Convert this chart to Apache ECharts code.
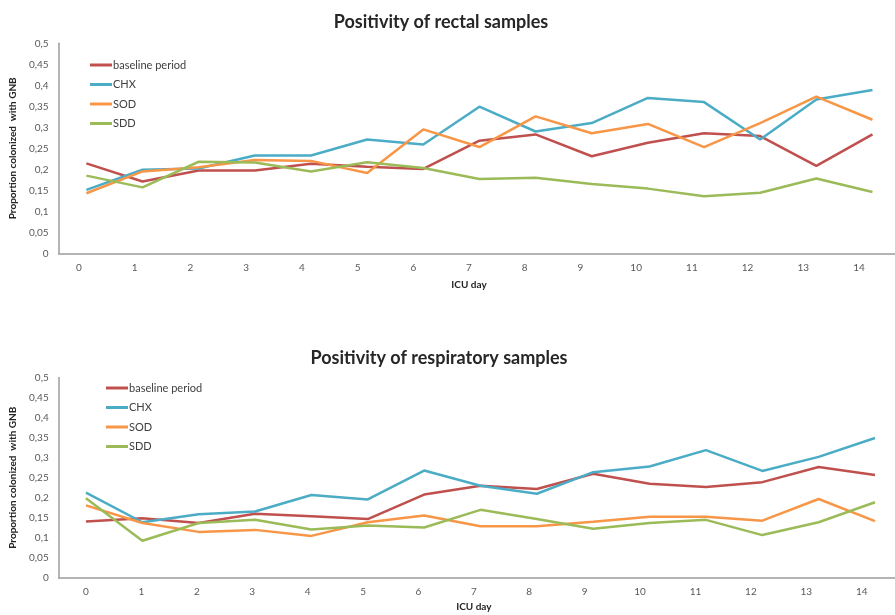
<!DOCTYPE html>
<html>
<head>
<meta charset="utf-8">
<script src="https://cdn.jsdelivr.net/npm/echarts@6/dist/echarts.min.js"></script>
<style>html,body{margin:0;padding:0;background:#fff}#c{width:895px;height:615px}</style>
</head>
<body>
<div id="c"></div>
<script>
const days = [0,1,2,3,4,5,6,7,8,9,10,11,12,13,14];
const dayLabels = ['0','1','2','3','4','5','6','7','8','9','10','11','12','13','14'];
const seriesNames = ['baseline period','CHX','SOD','SDD'];
const seriesColors = ['#C0504D','#4BACC6','#F79646','#9BBB59'];

// Rectal samples
const rectalBaseline = [0.214,0.171,0.197,0.197,0.213,0.206,0.201,0.268,0.283,0.231,0.263,0.286,0.279,0.208,0.283];
const rectalCHX      = [0.151,0.199,0.202,0.233,0.233,0.271,0.259,0.349,0.290,0.310,0.370,0.360,0.271,0.366,0.389];
const rectalSOD      = [0.143,0.195,0.205,0.222,0.220,0.191,0.295,0.253,0.326,0.286,0.308,0.253,0.310,0.373,0.318];
const rectalSDD      = [0.185,0.157,0.218,0.216,0.195,0.217,0.203,0.177,0.180,0.165,0.154,0.136,0.144,0.178,0.146];

// Respiratory samples
const respBaseline = [0.141,0.149,0.137,0.160,0.154,0.147,0.208,0.230,0.222,0.260,0.235,0.227,0.239,0.277,0.257];
const respCHX      = [0.213,0.139,0.159,0.166,0.207,0.196,0.268,0.230,0.210,0.264,0.278,0.319,0.267,0.302,0.349];
const respSOD      = [0.181,0.137,0.115,0.120,0.105,0.139,0.156,0.129,0.129,0.140,0.153,0.153,0.143,0.197,0.142];
const respSDD      = [0.199,0.093,0.137,0.145,0.121,0.131,0.126,0.170,0.147,0.123,0.137,0.145,0.107,0.139,0.189];

const yTicks = {min:0, max:0.5, interval:0.05};
const FONT = 'Lato';
const chart = echarts.init(document.getElementById('c'), null, {renderer:'canvas'});
function pts(vals){ return days.map((d,i)=>[d, vals[i]]); }
function fmt(v){ return (Math.round(v*100)/100).toString().replace('.', ','); }
const topSets = [rectalBaseline, rectalCHX, rectalSOD, rectalSDD];
const botSets = [respBaseline, respCHX, respSOD, respSDD];
const axisGray = '#9c9c9c';
const labelColor = '#595959';

const series = [];
topSets.forEach((s,i)=>series.push({
  name: seriesNames[i], type:'line', xAxisIndex:0, yAxisIndex:0, data: pts(s),
  symbol:'none', lineStyle:{width:2.5, color:seriesColors[i]}, itemStyle:{color:seriesColors[i]}, z:3
}));
botSets.forEach((s,i)=>series.push({
  name: seriesNames[i], type:'line', xAxisIndex:2, yAxisIndex:2, data: pts(s),
  symbol:'none', lineStyle:{width:2.5, color:seriesColors[i]}, itemStyle:{color:seriesColors[i]}, z:3
}));

function yAxisVisible(grid, nameGap, margin){
  return {
    type:'value', gridIndex:grid, min:yTicks.min, max:yTicks.max, interval:yTicks.interval,
    axisLine:{show:true, onZero:false, lineStyle:{color:axisGray, width:1.5}},
    axisTick:{show:false}, splitLine:{show:false},
    axisLabel:{color:labelColor, fontFamily:FONT, fontSize:10, margin:margin, formatter:fmt},
    name:'Proportion colonized  with GNB', nameLocation:'middle', nameGap:nameGap,
    nameTextStyle:{color:'#262626', fontFamily:FONT, fontSize:10, fontWeight:'bold'}
  };
}
function yAxisHidden(grid){
  return {type:'value', gridIndex:grid, min:0, max:0.5, show:false};
}
function xValueAxis(grid, min, max){
  return {type:'value', gridIndex:grid, min:min, max:max,
    axisLine:{show:true, onZero:false, lineStyle:{color:axisGray, width:1.5}},
    axisTick:{show:false}, axisLabel:{show:false}, splitLine:{show:false}};
}
function xLabelAxis(grid, margin, nameGap){
  return {type:'category', gridIndex:grid, data:dayLabels, boundaryGap:true,
    axisLine:{show:false}, axisTick:{show:false}, splitLine:{show:false},
    axisLabel:{color:labelColor, fontFamily:FONT, fontSize:10, margin:margin, interval:0},
    name:'ICU day', nameLocation:'middle', nameGap:nameGap,
    nameTextStyle:{color:'#262626', fontFamily:FONT, fontSize:10, fontWeight:'bold'}};
}

const option = {
  backgroundColor:'#fff',
  animation:false,
  title:[
    {text:'Positivity of rectal samples', left:436, top:8, textAlign:'center',
      textStyle:{fontFamily:FONT, fontSize:18, fontWeight:'bold', color:'#262626'}},
    {text:'Positivity of respiratory samples', left:434, top:344, textAlign:'center',
      textStyle:{fontFamily:FONT, fontSize:18, fontWeight:'bold', color:'#262626'}}
  ],
  legend:[
    {orient:'vertical', left:90, top:58, padding:0, itemGap:5.5, itemWidth:22, itemHeight:3,
      icon:'rect', data:seriesNames,
      textStyle:{fontFamily:FONT, fontSize:11, color:'#404040', lineHeight:14, padding:[0,0,0,-4]}},
    {orient:'vertical', left:106, top:381, padding:0, itemGap:5.5, itemWidth:22, itemHeight:3,
      icon:'rect', data:seriesNames,
      textStyle:{fontFamily:FONT, fontSize:11, color:'#404040', lineHeight:14, padding:[0,0,0,-4]}}
  ],
  grid:[
    {left:52, right:0, top:43.3, height:210},
    {left:51.1, right:8.1, top:43.3, height:210},
    {left:58.7, right:0, top:377.5, height:200.5},
    {left:58.3, right:5.6, top:377.5, height:200.5}
  ],
  xAxis:[
    xValueAxis(0, -0.495, 14.401),
    xLabelAxis(1, 9, 26),
    xValueAxis(2, -0.484, 14.355),
    xLabelAxis(3, 9, 24)
  ],
  yAxis:[
    yAxisVisible(0, 38, 10),
    yAxisHidden(1),
    yAxisVisible(2, 36.5, 10),
    yAxisHidden(3)
  ],
  series:series
};
chart.setOption(option);
</script>
</body>
</html>
